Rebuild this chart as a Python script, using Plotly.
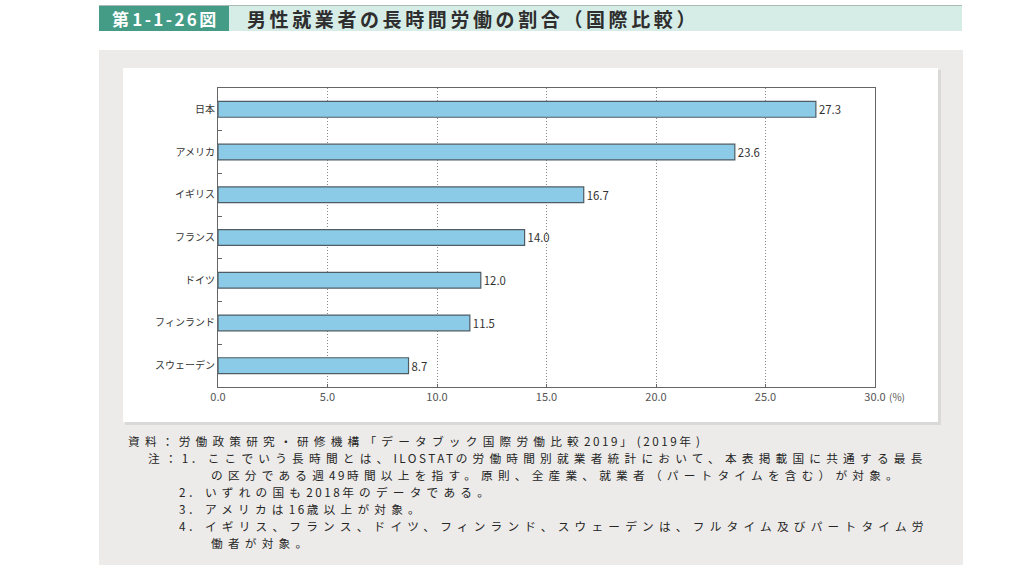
import plotly.graph_objects as go

# chart data
countries = ["日本", "アメリカ", "イギリス", "フランス", "ドイツ", "フィンランド", "スウェーデン"]
shares = [27.3, 23.6, 16.7, 14.0, 12.0, 11.5, 8.7]
x_ticks = [0, 5, 10, 15, 20, 25, 30]
x_ticktext = ["0.0", "5.0", "10.0", "15.0", "20.0", "25.0", "30.0"]

fig_no = "第1-1-26図"
title = "男性就業者の長時間労働の割合（国際比較）"
# (text, left x, centre y) in page pixels
note_lines = [
    ("資料：労働政策研究・研修機構「データブック国際労働比較2019」(2019年)", 126, 440.5),
    ("注：1．ここでいう長時間とは、ILOSTATの労働時間別就業者統計において、本表掲載国に共通する最長", 146, 457),
    ("の区分である週49時間以上を指す。原則、全産業、就業者（パートタイムを含む）が対象。", 209, 474),
    ("2．いずれの国も2018年のデータである。", 177, 491),
    ("3．アメリカは16歳以上が対象。", 177, 508),
    ("4．イギリス、フランス、ドイツ、フィンランド、スウェーデンは、フルタイム及びパートタイム労", 177, 525),
    ("働者が対象。", 209, 542),
]

FONT = "Noto Sans CJK JP"
W, H = 1024, 576
# plot area in page pixels
L, R, T, B = 218, 875, 88, 387


def px(x):
    return (x - L) / (R - L)


def py(y):
    return (B - y) / (B - T)


def rect(x0, y0, x1, y1, color):
    return dict(type="rect", xref="paper", yref="paper", layer="below",
                x0=px(x0), x1=px(x1), y0=py(y1), y1=py(y0),
                fillcolor=color, line=dict(width=0))


def spaced(s, wide, narrow=None):
    # the source sets its type wide; mimic that with letter spacing
    if narrow is None:
        narrow = wide
    runs, cur, cur_w = [], "", None
    for ch in s:
        w = ord(ch) >= 0x2000
        if cur and w != cur_w:
            runs.append((cur, cur_w))
            cur = ""
        cur += ch
        cur_w = w
    if cur:
        runs.append((cur, cur_w))
    return "".join('<span style="letter-spacing:%spx">%s</span>' % (wide if w else narrow, r)
                   for r, w in runs)


fig = go.Figure()
fig.add_trace(go.Bar(
    y=countries, x=shares, orientation="h",
    marker=dict(color="#8ccbe8", line=dict(color="#4f5c64", width=1.2)),
    text=shares, texttemplate="%{x:.1f}", textposition="outside",
    textfont=dict(family=FONT, size=11.5, color="#333333"),
    cliponaxis=False, width=0.37, hoverinfo="skip",
))

shapes = [
    # header band
    rect(229, 6, 962, 31, "#d6ede7"),
    rect(99, 6, 229, 31, "#449c87"),
    dict(type="line", xref="paper", yref="paper", x0=px(99), x1=px(962),
         y0=py(5.5), y1=py(5.5), line=dict(color="#a9b9b4", width=1)),
    # grey panel, card shadow and card
    rect(99, 50, 963, 565, "#ecebe9"),
    rect(125, 70, 941, 425, "#d9d9d7"),
    rect(123, 68, 938, 422, "#ffffff"),
]

annotations = [
    dict(text="<b>" + spaced(fig_no, 3.2, 2.4) + "</b>", x=px(110), y=py(18.5),
         font=dict(family=FONT, size=17, color="#ffffff")),
    dict(text="<b>" + spaced(title, 3.6) + "</b>", x=px(245), y=py(18.5),
         font=dict(family=FONT, size=19, color="#2e2e2e")),
    dict(text="(%)", x=px(887), y=py(396),
         font=dict(family=FONT, size=10, color="#555555")),
]
for text, xx, yy in note_lines:
    annotations.append(dict(text=spaced(text, 5.2, 2.5), x=px(xx), y=py(yy),
                            font=dict(family=FONT, size=11.7, color="#262626")))
for a in annotations:
    a.update(xref="paper", yref="paper", xanchor="left", yanchor="middle",
             align="left", showarrow=False)

fig.update_layout(
    width=W, height=H, autosize=False,
    margin=dict(l=L, r=W - R, t=T, b=H - B, pad=0),
    paper_bgcolor="#ffffff", plot_bgcolor="rgba(0,0,0,0)",
    showlegend=False, shapes=shapes, annotations=annotations,
    font=dict(family=FONT, color="#444444"),
)
fig.update_xaxes(
    range=[0, 30], tickvals=x_ticks, ticktext=x_ticktext,
    showgrid=True, gridcolor="#8a8a8a", griddash="1px,2px", gridwidth=1,
    showline=True, linecolor="#666666", linewidth=1.2, mirror=True,
    ticks="inside", ticklen=3, tickcolor="#666666",
    tickfont=dict(family=FONT, size=11, color="#555555"),
    zeroline=False, fixedrange=True,
)
fig.update_yaxes(
    autorange="reversed", showgrid=False,
    showline=True, linecolor="#666666", linewidth=1.2, mirror=True,
    ticks="inside", tickson="boundaries", ticklen=4, tickcolor="#666666",
    tickfont=dict(family=FONT, size=10, color="#333333"),
    fixedrange=True,
)

# drop the default page margin so the figure fills the window exactly
post = "document.body.style.margin = '0'; document.body.style.overflow = 'hidden';"
fig.write_html("out.html", config={"displayModeBar": False}, post_script=post)
